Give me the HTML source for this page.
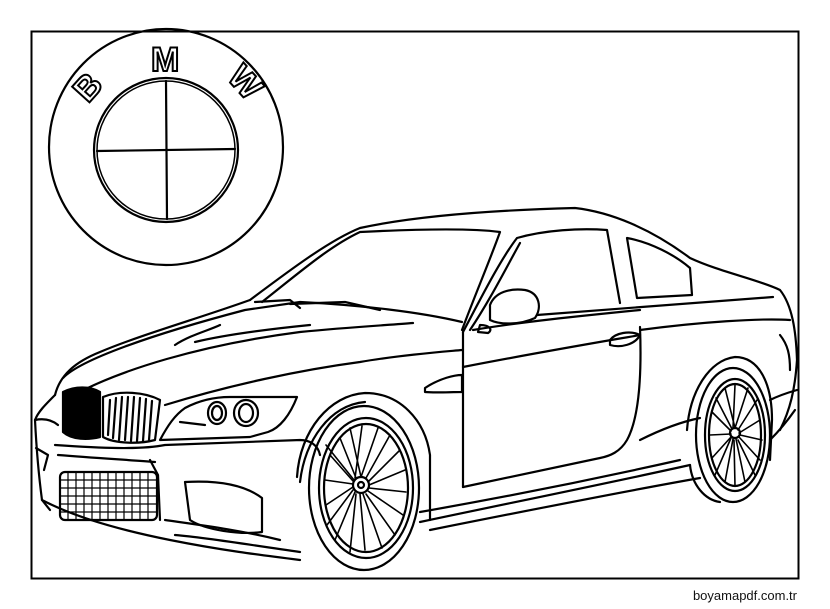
<!DOCTYPE html>
<html><head><meta charset="utf-8"><style>
html,body{margin:0;padding:0;background:#fff;}
svg{display:block;}
</style></head><body>
<svg width="830" height="609" viewBox="0 0 830 609" xmlns="http://www.w3.org/2000/svg">
<rect x="0" y="0" width="830" height="609" fill="#fff"/>
<rect x="31.5" y="31.5" width="767" height="547" fill="none" stroke="#000" stroke-width="2"/>
<text x="797" y="600" text-anchor="end" font-family="Liberation Sans, sans-serif" font-size="13" fill="#111">boyamapdf.com.tr</text>
<g fill="none" stroke="#000" stroke-width="2.2" stroke-linecap="round" stroke-linejoin="round">
<!-- logo -->
<ellipse cx="166" cy="147" rx="117" ry="118"/>
<circle cx="166" cy="150" r="72"/>
<circle cx="166" cy="150" r="69" stroke-width="1.5"/>
<line x1="97" y1="151" x2="235" y2="149"/>
<line x1="166" y1="81" x2="167" y2="219"/>
</g>
<g font-family="Liberation Sans, sans-serif" font-weight="bold" font-size="34" fill="#fff" stroke="#000" stroke-width="2">
<text x="0" y="0" transform="translate(88,104) rotate(-48)">B</text>
<text x="151" y="71">M</text>
<text x="0" y="0" transform="translate(226,78) rotate(48)">W</text>
</g>
<g fill="none" stroke="#000" stroke-width="2.2" stroke-linecap="round" stroke-linejoin="round">
<!-- roof & windshield -->
<path d="M250 300 C290 270 330 240 360 228 C420 215 500 210 575 208 C610 212 650 228 690 258 C720 272 760 280 780 290 C792 305 796 330 797 360 C795 390 790 410 780 430"/>
<path d="M262 302 C300 272 330 246 360 232 C420 229 470 228 500 232 C490 260 475 295 462 330"/>
<path d="M250 300 C200 318 140 335 100 352 C75 362 60 375 55 395"/>
<path d="M63 378 C80 360 150 335 245 310 L300 302 C360 305 420 312 462 322"/>
<!-- hood lines -->
<path d="M74 395 C120 370 200 345 300 332 C350 327 390 325 413 323"/>
<path d="M165 405 C230 385 300 370 360 362 C400 355 440 352 462 350"/>
<path d="M175 345 C190 335 210 330 220 325 M195 342 C220 336 260 330 310 325"/>
<path d="M255 302 L290 300 L300 308 M290 304 L345 302 L380 310"/>
<!-- side windows -->
<path d="M463 332 C480 300 500 260 517 238 C545 230 580 228 607 230 L620 303"/>
<path d="M470 330 C490 300 505 270 520 243"/>
<path d="M627 238 C650 242 675 255 690 268 L692 295 L637 298 Z"/>
<path d="M537 315 L773 297"/>
<path d="M473 330 C520 322 580 316 640 310"/>
<!-- mirror -->
<path d="M490 305 C495 292 510 288 525 290 C540 293 542 308 535 318 C520 325 500 325 490 320 Z"/>
<path d="M480 325 C490 325 493 330 488 333 L478 332 Z"/>
<!-- door -->
<path d="M463 332 L463 487"/>
<path d="M640 327 C642 380 638 420 627 440 C620 452 610 456 600 458 L463 487"/>
<path d="M463 367 C540 352 600 342 640 335"/>
<path d="M610 340 C615 333 630 330 640 335 C635 345 620 348 610 345 Z"/>
<!-- rear quarter -->
<path d="M640 330 C700 322 760 318 790 320"/>
<path d="M640 440 C660 430 680 422 700 418"/>
<path d="M780 335 C788 345 790 355 790 370"/>
<path d="M770 400 C780 395 790 392 797 390"/>
<path d="M770 440 C780 430 788 420 795 410"/>
<!-- side skirt -->
<path d="M420 522 C500 505 600 485 690 465"/>
<path d="M420 512 C500 498 600 478 680 460"/>
<path d="M430 530 C520 512 620 492 700 478"/>
<!-- front arch -->
<path d="M297 477 C300 430 330 395 365 393 C400 393 425 420 430 455 L430 520"/>
<path d="M300 482 C305 440 330 405 365 402"/>
<!-- front wheel -->
<ellipse cx="364" cy="488" rx="55" ry="82"/>
<ellipse cx="366" cy="488" rx="47" ry="70"/>
<ellipse cx="366" cy="488" rx="42" ry="64"/>
<circle cx="361" cy="485" r="8"/>
<circle cx="361" cy="485" r="3"/>
<g stroke-width="1.6">
<path d="M361 477 L350 428 M361 477 L378 428 M368 482 L400 450 M369 488 L406 492 M366 494 L395 535 M360 494 L365 550 M355 492 L335 540 M353 487 L326 505 M353 481 L330 455 M356 478 L340 438"/>
<path d="M355 478 L362 426 M366 478 L390 435 M369 485 L405 470 M368 491 L403 515 M363 494 L382 548 M356 494 L350 552 M353 490 L327 525 M353 484 L325 480 M354 480 L326 445"/>
</g>
<!-- rear wheel -->
<path d="M687 430 C690 390 710 360 735 357 C760 357 772 385 772 420 L770 460"/>
<ellipse cx="733" cy="435" rx="37" ry="67"/>
<ellipse cx="735" cy="435" rx="30" ry="56"/>
<ellipse cx="735" cy="435" rx="26" ry="51"/>
<circle cx="735" cy="433" r="5"/>
<g stroke-width="1.6">
<path d="M735 428 L725 388 M735 428 L748 388 M739 433 L760 420 M739 437 L760 460 M736 439 L745 482 M733 439 L725 482 M731 437 L712 458 M731 431 L712 412"/>
<path d="M733 428 L735 385 M738 430 L757 400 M740 435 L762 440 M738 440 L755 475 M734 440 L735 486 M731 438 L715 475 M731 434 L710 435 M732 429 L716 398"/>
</g>
<path d="M690 465 C692 485 705 500 720 502"/>
<!-- front end -->
<path d="M55 395 C45 405 38 412 35 420 C36 440 38 470 42 500 C80 520 130 532 170 540 C220 550 260 555 300 560"/>
<path d="M35 420 C45 418 52 420 58 425"/>
<path d="M36 448 L48 455 L44 470"/>
<path d="M42 500 L50 510"/>
<!-- grille kidneys -->
<path d="M63 392 C75 386 90 386 100 392 L100 437 C88 440 72 440 63 432 Z" fill="#000"/>
<path d="M103 397 C120 390 145 392 160 400 L155 440 C140 444 115 444 103 437 Z"/>
<path d="M110 400 L108 435 M116 398 L113 438 M122 397 L119 440 M128 397 L125 440 M134 397 L131 441 M140 398 L137 441 M146 399 L143 441 M152 401 L149 440"/>
<!-- lower bumper -->
<path d="M58 455 C95 458 130 460 155 462"/>
<path d="M150 460 L158 475 L160 520"/>
<rect x="60" y="472" width="97" height="48" rx="5"/>
<g stroke-width="1.2">
<path d="M60 480 L157 480 M60 488 L157 488 M60 496 L157 496 M60 504 L157 504 M60 512 L157 512"/>
<path d="M68 472 L68 520 M76 472 L76 520 M84 472 L84 520 M92 472 L92 520 M100 472 L100 520 M108 472 L108 520 M116 472 L116 520 M124 472 L124 520 M132 472 L132 520 M140 472 L140 520 M148 472 L148 520"/>
</g>
<path d="M185 482 C220 480 245 485 262 498 L262 532 C240 535 205 530 190 520 Z"/>
<path d="M165 520 C200 525 240 530 280 540"/>
<path d="M175 535 C210 538 250 545 300 552"/>
<path d="M55 445 C100 448 140 450 165 445 L300 440 C310 440 318 445 320 455"/>
<!-- headlight -->
<path d="M160 440 C168 425 175 415 185 408 C200 400 215 397 230 397 L297 397 C290 415 280 428 268 432 L250 437 Z"/>
<ellipse cx="217" cy="413" rx="9" ry="11"/>
<ellipse cx="217" cy="413" rx="5" ry="7"/>
<ellipse cx="246" cy="413" rx="12" ry="13"/>
<ellipse cx="246" cy="413" rx="7" ry="9"/>
<path d="M180 422 L205 425"/>
<!-- side vent -->
<path d="M425 388 C440 378 455 375 462 375 L462 392 C450 392 435 393 425 392 Z"/>
</g>
</svg>
</body></html>
